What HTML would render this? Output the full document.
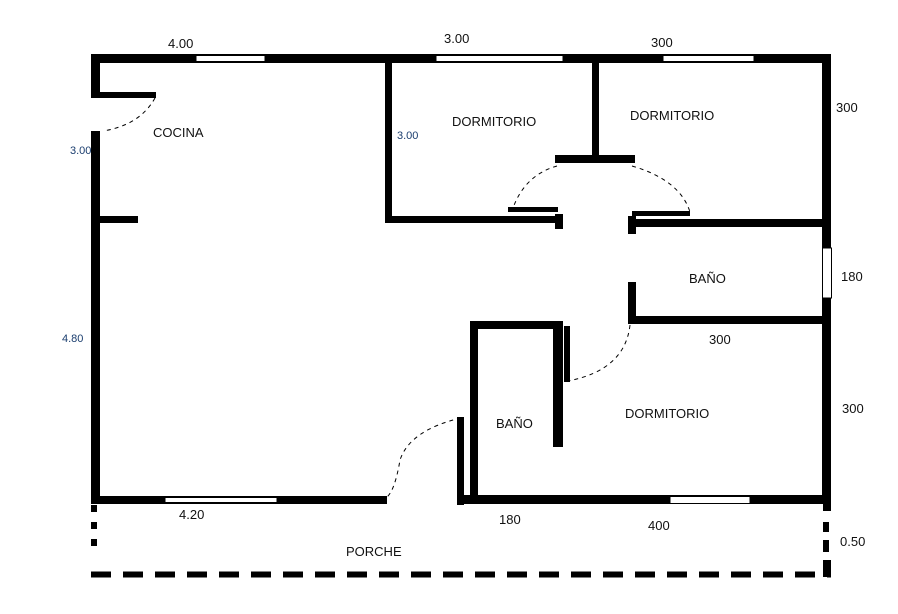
<!DOCTYPE html>
<html><head><meta charset="utf-8"><style>
html,body{margin:0;padding:0;background:#fff;width:898px;height:614px;overflow:hidden}
svg{display:block}
text{font-family:"Liberation Sans",sans-serif;font-size:13px;fill:#111}
</style></head><body>
<svg width="898" height="614" viewBox="0 0 898 614">
<g fill="#000">
<!-- top wall -->
<rect x="91" y="54" width="740" height="9"/>
<!-- left wall -->
<rect x="91" y="54" width="9" height="44"/>
<rect x="100" y="92" width="56" height="6"/>
<rect x="91" y="131" width="9" height="373"/>
<rect x="100" y="216" width="38" height="7"/>
<!-- dorm1 -->
<rect x="385" y="62" width="7" height="161"/>
<rect x="385" y="216" width="178" height="7"/>
<rect x="555" y="214" width="8" height="15"/>
<rect x="508" y="207" width="50" height="5"/>
<!-- dorm2 -->
<rect x="592" y="62" width="7" height="96"/>
<rect x="555" y="155" width="80" height="8"/>
<rect x="632" y="211" width="58" height="5"/>
<rect x="628" y="216" width="8" height="18"/>
<rect x="628" y="219" width="203" height="8"/>
<!-- right wall -->
<rect x="822" y="54" width="9" height="450"/>
<!-- bath right -->
<rect x="628" y="282" width="8" height="42"/>
<rect x="628" y="316" width="203" height="8"/>
<!-- small bath -->
<rect x="470" y="321" width="93" height="8"/>
<rect x="470" y="321" width="8" height="183"/>
<rect x="553" y="321" width="10" height="126"/>
<rect x="564" y="326" width="6" height="56"/>
<rect x="457" y="417" width="7" height="88"/>
<rect x="457" y="495" width="374" height="9"/>
<!-- bottom left -->
<rect x="91" y="496" width="296" height="8"/>
<!-- porch -->
<rect x="91" y="505" width="6" height="7"/>
<rect x="91" y="522" width="6" height="7"/>
<rect x="91" y="539" width="6" height="7"/>
<rect x="823" y="504" width="8" height="7"/>
<rect x="823" y="522" width="6" height="10"/>
<rect x="823" y="540" width="6" height="12"/>
<rect x="823" y="560" width="8" height="17"/>
</g>
<line x1="91" y1="574.5" x2="831" y2="574.5" stroke="#000" stroke-width="6" stroke-dasharray="20,12"/>
<!-- windows -->
<g fill="#fff" stroke="#000" stroke-width="1">
<rect x="196" y="55.5" width="69" height="6"/>
<rect x="436" y="55.5" width="127" height="6"/>
<rect x="663" y="55.5" width="91" height="6"/>
<rect x="822.5" y="248" width="9" height="50"/>
<rect x="165" y="497.5" width="112" height="5"/>
<rect x="670" y="496.5" width="80" height="7"/>
</g>
<!-- door arcs -->
<g fill="none" stroke="#000" stroke-width="1" stroke-dasharray="4,4">
<path d="M155 98 Q140 125 103 131"/>
<path d="M557 166 Q525 175 513 208"/>
<path d="M632 166 Q680 180 690 212"/>
<path d="M630 325 Q625 370 568 381"/>
<path d="M461 418 Q410 430 400 460 Q395 490 387 497"/>
</g>
<text x="168" y="48">4.00</text>
<text x="444" y="43">3.00</text>
<text x="651" y="47">300</text>
<text x="836" y="112">300</text>
<text x="153" y="137">COCINA</text>
<text x="70" y="154" style="font-size:11px;fill:#1a3d6e">3.00</text>
<text x="452" y="126">DORMITORIO</text>
<text x="397" y="139" style="font-size:11px;fill:#1a3d6e">3.00</text>
<text x="630" y="120">DORMITORIO</text>
<text x="689" y="283">BAÑO</text>
<text x="841" y="281">180</text>
<text x="709" y="344">300</text>
<text x="62" y="342" style="font-size:11px;fill:#1a3d6e">4.80</text>
<text x="842" y="413">300</text>
<text x="625" y="418">DORMITORIO</text>
<text x="496" y="428">BAÑO</text>
<text x="179" y="519">4.20</text>
<text x="499" y="524">180</text>
<text x="648" y="530">400</text>
<text x="346" y="556">PORCHE</text>
<text x="840" y="546">0.50</text>
</svg>
</body></html>
